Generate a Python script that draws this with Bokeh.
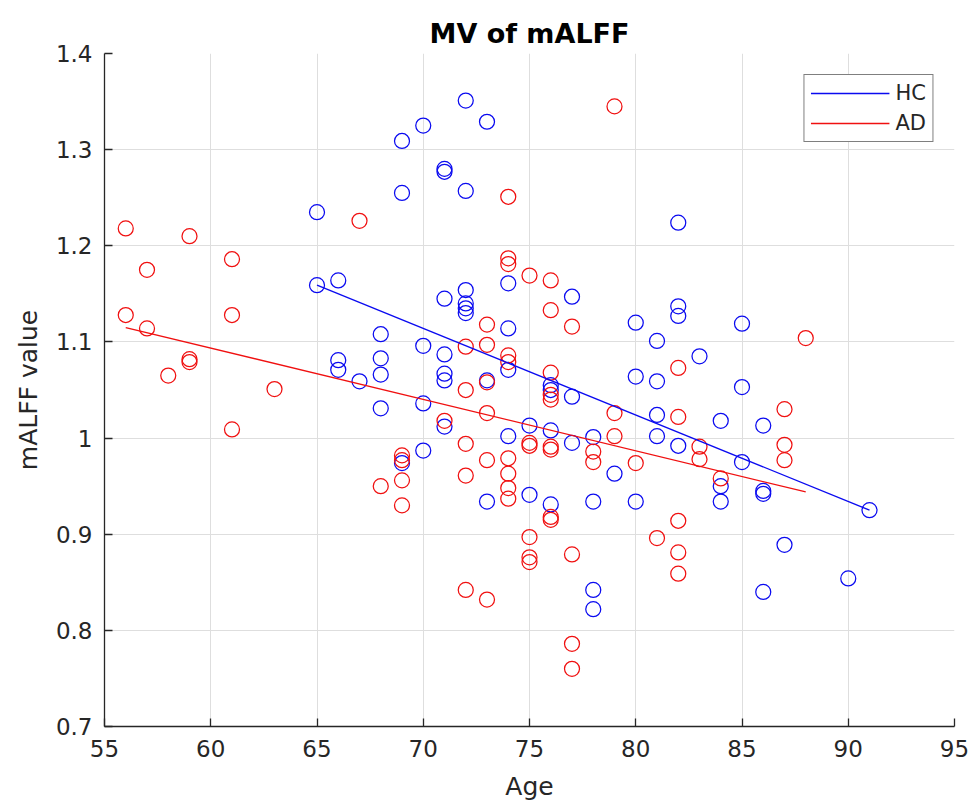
from bokeh.plotting import figure
from bokeh.models import (FixedTicker, CustomJSTickFormatter, Legend, LegendItem,
                          Range1d)
from bokeh.embed import file_html
from bokeh.resources import INLINE

# ---------------- data ----------------
hc_age = [65, 65,
          66, 66, 66,
          67,
          68, 68, 68, 68,
          69, 69, 69,
          70, 70, 70, 70,
          71, 71, 71, 71, 71, 71, 71,
          72, 72, 72, 72, 72, 72,
          73, 73, 73,
          74, 74, 74, 74,
          75, 75,
          76, 76, 76, 76,
          77, 77, 77,
          78, 78, 78, 78,
          79,
          80, 80, 80,
          81, 81, 81, 81,
          82, 82, 82, 82,
          83,
          84, 84, 84,
          85, 85, 85,
          86, 86, 86, 86,
          87,
          90,
          91]
hc_val = [1.235, 1.159,
          1.164, 1.081, 1.071,
          1.059,
          1.108, 1.083, 1.066, 1.031,
          1.309, 1.255, 0.974,
          1.325, 1.096, 1.036, 0.987,
          1.280, 1.277, 1.145, 1.087, 1.067, 1.060, 1.012,
          1.351, 1.257, 1.154, 1.140, 1.135, 1.130,
          1.329, 1.060, 0.934,
          1.161, 1.114, 1.071, 1.002,
          1.013, 0.941,
          1.055, 1.050, 1.008, 0.931,
          1.147, 1.043, 0.995,
          1.001, 0.934, 0.842, 0.822,
          0.963,
          1.120, 1.064, 0.934,
          1.101, 1.059, 1.024, 1.002,
          1.224, 1.137, 1.127, 0.992,
          1.085,
          1.018, 0.950, 0.934,
          1.119, 1.053, 0.975,
          1.013, 0.945, 0.942, 0.840,
          0.889,
          0.854,
          0.925]

ad_age = [56, 56,
          57, 57,
          58,
          59, 59, 59,
          61, 61, 61,
          63,
          67,
          68,
          69, 69, 69, 69,
          71,
          72, 72, 72, 72, 72,
          73, 73, 73, 73, 73, 73,
          74, 74, 74, 74, 74, 74, 74, 74, 74,
          75, 75, 75, 75, 75, 75,
          76, 76, 76, 76, 76, 76, 76, 76, 76,
          77, 77, 77, 77,
          78, 78,
          79, 79, 79,
          80,
          81,
          82, 82, 82, 82, 82,
          83, 83,
          84,
          87, 87, 87,
          88]
ad_val = [1.218, 1.128,
          1.175, 1.114,
          1.065,
          1.210, 1.082, 1.079,
          1.186, 1.128, 1.009,
          1.051,
          1.226,
          0.950,
          0.982, 0.977, 0.956, 0.930,
          1.018,
          1.095, 1.050, 0.994, 0.961, 0.842,
          1.118, 1.097, 1.058, 1.026, 0.977, 0.832,
          1.251, 1.187, 1.181, 1.086, 1.079, 0.979, 0.963, 0.948, 0.937,
          1.169, 0.995, 0.992, 0.897, 0.876, 0.871,
          1.164, 1.133, 1.068, 1.045, 1.040, 0.991, 0.988, 0.918, 0.915,
          1.116, 0.879, 0.786, 0.760,
          0.986, 0.975,
          1.345, 1.026, 1.002,
          0.974,
          0.896,
          1.073, 1.022, 0.914, 0.881, 0.859,
          0.991, 0.978,
          0.958,
          1.030, 0.993, 0.977,
          1.104]

# fitted regression lines (end points)
hc_fit_age = [65, 91]
hc_fit_val = [1.159, 0.925]
ad_fit_age = [56, 88]
ad_fit_val = [1.115, 0.944]

x_ticks = [55, 60, 65, 70, 75, 80, 85, 90, 95]
y_ticks = [0.7, 0.8, 0.9, 1.0, 1.1, 1.2, 1.3, 1.4]

series_names = ["HC", "AD"]

# ---------------- styling ----------------
BLUE = "#0a0af0"
RED = "#f01010"
AXIS = "#262626"
GRID = "#dedede"
FONT = "DejaVu Sans"

p = figure(frame_width=850, frame_height=673,
           min_border_left=104, min_border_right=19,
           min_border_top=53, min_border_bottom=79,
           x_range=Range1d(55, 95), y_range=Range1d(0.7, 1.4),
           title="MV of mALFF",
           output_backend="svg", toolbar_location=None)

p.background_fill_color = "white"
p.border_fill_color = "white"
p.outline_line_color = None

p.title.text_font = FONT
p.title.text_font_size = "27px"
p.title.text_font_style = "bold"
p.title.text_color = "black"
p.title.align = "center"
p.title.standoff = 9

p.xaxis.ticker = FixedTicker(ticks=x_ticks)
p.yaxis.ticker = FixedTicker(ticks=y_ticks)
p.yaxis.formatter = CustomJSTickFormatter(
    code="return Number(tick.toFixed(2)).toString();")

for ax in (p.xaxis[0], p.yaxis[0]):
    ax.axis_line_color = AXIS
    ax.axis_line_width = 1.3
    ax.major_tick_line_color = AXIS
    ax.major_tick_line_width = 1.3
    ax.major_tick_in = 8
    ax.major_tick_out = 0
    ax.minor_tick_line_color = None
    ax.major_label_text_font = FONT
    ax.major_label_text_font_size = "23px"
    ax.major_label_text_color = AXIS
    ax.axis_label_text_font = FONT
    ax.axis_label_text_font_size = "25px"
    ax.axis_label_text_font_style = "normal"
    ax.axis_label_text_color = AXIS

p.xaxis.axis_label = "Age"
p.yaxis.axis_label = "mALFF value"
p.xaxis.major_label_standoff = 13
p.yaxis.major_label_standoff = 12
p.xaxis.axis_label_standoff = 12
p.yaxis.axis_label_standoff = 10

p.xgrid.grid_line_color = GRID
p.ygrid.grid_line_color = GRID
p.xgrid.grid_line_width = 1
p.ygrid.grid_line_width = 1

p.scatter(hc_age, hc_val, marker="circle", size=15, fill_color=None,
          line_color=BLUE, line_width=1.25)
p.scatter(ad_age, ad_val, marker="circle", size=15, fill_color=None,
          line_color=RED, line_width=1.25)

r_hc = p.line(hc_fit_age, hc_fit_val, line_color=BLUE, line_width=1.3)
r_ad = p.line(ad_fit_age, ad_fit_val, line_color=RED, line_width=1.3)

legend = Legend(items=[LegendItem(label=series_names[0], renderers=[r_hc]),
                       LegendItem(label=series_names[1], renderers=[r_ad])],
                location="top_right")
legend.margin = 21
legend.padding = 6
legend.spacing = 6
legend.glyph_width = 79
legend.glyph_height = 24
legend.label_height = 24
legend.label_standoff = 6
legend.label_text_font = FONT
legend.label_text_font_size = "21px"
legend.label_text_color = AXIS
legend.border_line_color = "black"
legend.border_line_width = 1
legend.background_fill_color = "white"
legend.background_fill_alpha = 1.0
p.add_layout(legend)

open("out.html", "w").write(file_html(p, INLINE))
